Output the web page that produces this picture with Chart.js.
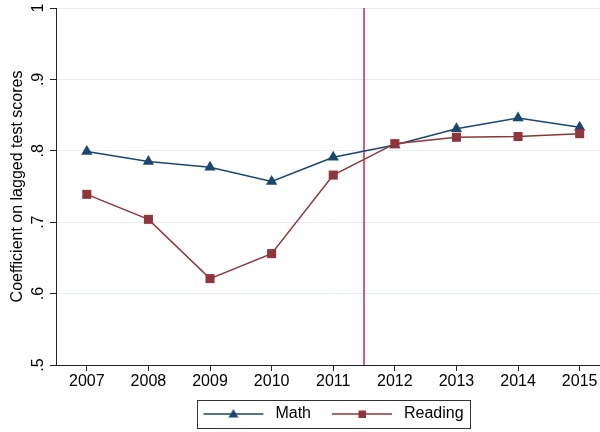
<!DOCTYPE html>
<html><head><meta charset="utf-8">
<script src="https://cdn.jsdelivr.net/npm/chart.js@4"></script>
<style>html,body{margin:0;padding:0;background:#fff}</style>
</head><body>
<canvas id="c" width="600" height="432"></canvas>
<script>
const years = [2007, 2008, 2009, 2010, 2011, 2012, 2013, 2014, 2015];
const mathValues = [0.799, 0.785, 0.777, 0.757, 0.791, 0.808, 0.831, 0.846, 0.833];
const readingValues = [0.739, 0.704, 0.621, 0.656, 0.766, 0.810, 0.819, 0.820, 0.824];
const seriesNames = ['Math', 'Reading'];
const cutoffYear = 2011.5;
const yAxisTitle = 'Coefficient on lagged test scores';
const yTickValues = [0.5, 0.6, 0.7, 0.8, 0.9, 1];
const xRange = [2006.5, 2015.33];
const yRange = [0.5, 1];

const FONT = "'Liberation Sans', Arial, Helvetica, sans-serif";
const MATH_COLOR = '#1a476f', READ_COLOR = '#90353b', CUT_COLOR = '#d42352';

function fmtY(v) {
  const s = (Math.round(v * 10) / 10).toString();
  return s.startsWith('0.') ? s.slice(1) : s;
}

function legendSample(color, style) {
  const c = document.createElement('canvas');
  c.width = 75; c.height = 16;
  const g = c.getContext('2d');
  g.strokeStyle = color; g.lineWidth = 1.5;
  g.beginPath(); g.moveTo(11, 8); g.lineTo(71, 8); g.stroke();
  g.fillStyle = color;
  g.beginPath();
  if (style === 'triangle') { g.moveTo(41, 3); g.lineTo(46, 11.5); g.lineTo(36, 11.5); g.closePath(); }
  else { g.rect(37.5, 4.5, 7.5, 7.5); }
  g.fill();
  return c;
}
const samples = [legendSample(MATH_COLOR, 'triangle'), legendSample(READ_COLOR, 'rect')];

const decor = {
  id: 'decor',
  afterDraw(chart) {
    const ctx = chart.ctx, ys = chart.scales.y;
    ctx.save();
    ctx.fillStyle = '#000';
    ctx.font = '16px ' + FONT;
    ctx.textAlign = 'center';
    ctx.textBaseline = 'middle';
    ys.ticks.forEach(t => {
      const py = ys.getPixelForValue(t.value);
      ctx.save();
      ctx.translate(ys.right - 17, py);
      ctx.rotate(-Math.PI / 2);
      ctx.fillText(fmtY(t.value), 0, 0);
      ctx.restore();
    });
    const hb = chart.legend.legendHitBoxes;
    if (hb && hb.length) {
      const l = hb[0].left + 5;
      const last = hb[hb.length - 1];
      const r = last.left + last.width + 7;
      const cy = hb[0].top + 8;
      ctx.strokeStyle = '#333';
      ctx.lineWidth = 1;
      ctx.strokeRect(Math.round(l) + 0.5, Math.round(cy - 14) + 0.5, Math.round(r - l), 28);
    }
    ctx.restore();
  }
};

new Chart(document.getElementById('c'), {
  type: 'line',
  data: {
    datasets: [
      {
        label: seriesNames[0],
        data: years.map((x, i) => ({ x, y: mathValues[i] })),
        borderColor: MATH_COLOR, backgroundColor: MATH_COLOR,
        borderWidth: 1.5, pointStyle: 'triangle', pointRadius: 6.5, pointBorderWidth: 0,
        tension: 0, order: 1
      },
      {
        label: seriesNames[1],
        data: years.map((x, i) => ({ x, y: readingValues[i] })),
        borderColor: READ_COLOR, backgroundColor: READ_COLOR,
        borderWidth: 1.5, pointStyle: 'rect', pointRadius: 6.4, pointBorderWidth: 0,
        tension: 0, order: 0
      },
      {
        label: 'cutoff',
        data: [{ x: cutoffYear, y: yRange[0] }, { x: cutoffYear, y: yRange[1] }],
        borderColor: CUT_COLOR, borderWidth: 1.5, pointRadius: 0, order: 2
      }
    ]
  },
  options: {
    responsive: false,
    animation: false,
    layout: { autoPadding: false, padding: { top: 8, right: 0, bottom: 0, left: 0 } },
    scales: {
      x: {
        type: 'linear', min: xRange[0], max: xRange[1],
        afterBuildTicks: s => { s.ticks = years.map(v => ({ value: v })); },
        afterFit: s => { s.height = 31; s.paddingRight = 0; s.paddingLeft = 0; },
        grid: { drawOnChartArea: false, drawTicks: true, tickLength: 6, tickColor: '#222', color: '#222' },
        border: { display: true, color: '#222', width: 1 },
        ticks: { padding: 1, color: '#000', font: { family: FONT, size: 16 }, callback: v => String(v), autoSkip: false, maxRotation: 0 }
      },
      y: {
        min: yRange[0], max: yRange[1],
        afterBuildTicks: s => { s.ticks = yTickValues.map(v => ({ value: v })); },
        afterFit: s => { s.width = 56; s.paddingTop = 0; s.paddingBottom = 0; },
        grid: { color: '#e6edf1', lineWidth: 1, tickLength: 6, tickColor: '#222', drawTicks: true },
        border: { color: '#222', width: 1 },
        ticks: { display: false },
        title: { display: true, text: yAxisTitle, color: '#000', font: { family: FONT, size: 16 }, padding: { top: 8, bottom: 0 } }
      }
    },
    plugins: {
      legend: {
        position: 'bottom', fullSize: false,
        labels: {
          usePointStyle: true, pointStyleWidth: 75, boxHeight: 14, padding: 10,
          color: '#000', font: { family: FONT, size: 16 },
          generateLabels: chart => Chart.defaults.plugins.legend.labels.generateLabels(chart)
            .filter(it => it.datasetIndex < 2)
            .sort((a, b) => a.datasetIndex - b.datasetIndex)
            .map(it => Object.assign(it, { pointStyle: samples[it.datasetIndex] }))
        }
      },
      tooltip: { enabled: false }
    }
  },
  plugins: [decor]
});
</script>
</body></html>
